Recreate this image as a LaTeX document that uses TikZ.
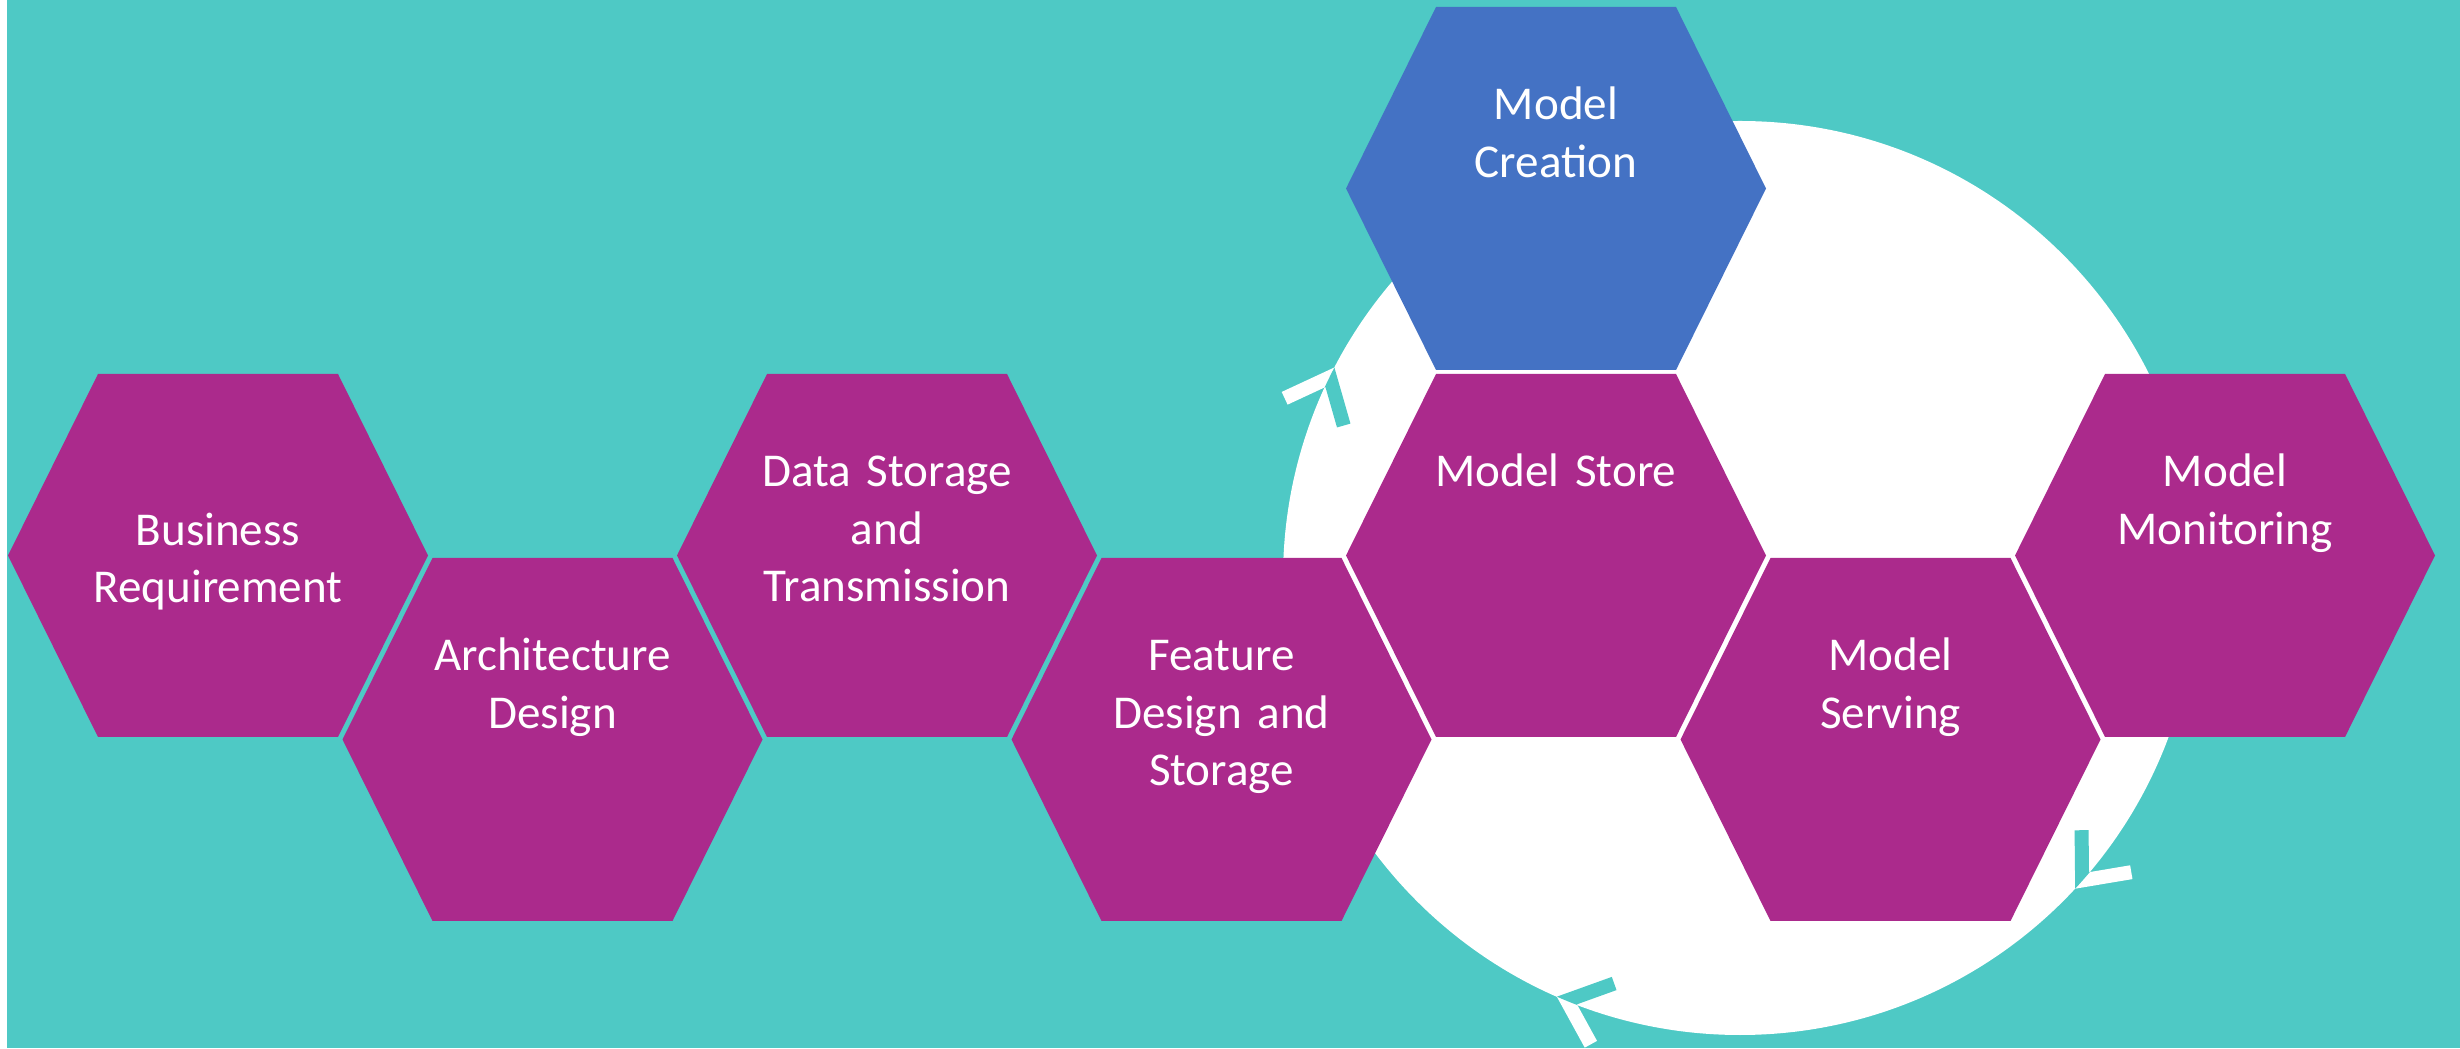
\documentclass[tikz,border=0pt]{standalone}
\usepackage{fontspec}
\setmainfont{Carlito}
\usetikzlibrary{calc,positioning}
\definecolor{bgteal}{HTML}{4EC9C5}
\definecolor{hexpurple}{HTML}{AB2A8C}
\definecolor{hexblue}{HTML}{4472C4}

\begin{document}
\begin{tikzpicture}
	\tikzset{
		hexa/.style={fill=#1},
		steptext/.style={font={\fontsize{13.4}{16.3}\selectfont}, text=white, text width=4cm, align=center, anchor=base, inner sep=0pt},
		chevron/.style={line width=1.4mm, line join=miter, line cap=butt},
	}

	\useasboundingbox (0,0) rectangle (24.6,10.48);
	\fill[white] (0,0) rectangle (24.6,10.48);
	\fill[bgteal] (0.07,0) rectangle (24.6,10.48);

	\coordinate (cyc) at (17.40,4.70);
	\fill[white] (cyc) circle (4.57);

	\foreach \a in {152.6,-42.8,-113.6}
		{
			\begin{scope}[shift={(cyc)}, rotate=\a]
				\draw[chevron, white] (4.87,0.50) -- (4.565,0.105) -- (4.22,0.47);
				\clip (0,0) circle (4.57);
				\draw[chevron, bgteal] (4.87,0.50) -- (4.565,0.105) -- (4.22,0.47);
			\end{scope}
		}

	\foreach \nm/\cx/\cy/\col in {busreq/2.18/4.925/hexpurple, archdes/5.525/3.085/hexpurple, datastor/8.87/4.925/hexpurple, featdes/12.215/3.085/hexpurple, mstore/15.56/4.925/hexpurple, mcreate/15.56/8.595/hexblue, mserve/18.905/3.085/hexpurple, mmonitor/22.25/4.925/hexpurple}
		{
			\coordinate (\nm) at (\cx,\cy);
			\fill[hexa=\col] (\nm) ++(-2.1,0) -- ++(0.9,1.815) -- ++(2.4,0) -- ++(0.9,-1.815) -- ++(-0.9,-1.815) -- ++(-2.4,0) -- cycle;
		}

	\node[steptext] (busreq-t) at ($(busreq)+(0,0.10)$) {Business\\Requirement};
	\node[steptext] (archdes-t) at ($(archdes)+(0,0.685)$) {Architecture\\Design};
	\node[steptext] (datastor-t) at ($(datastor)+(0,0.685)$) {Data Storage\\and\\Transmission};
	\node[steptext] (featdes-t) at ($(featdes)+(0,0.685)$) {Feature\\Design and\\Storage};
	\node[steptext] (mstore-t) at ($(mstore)+(0,0.685)$) {Model Store};
	\node[steptext] (mcreate-t) at ($(mcreate)+(0,0.685)$) {Model\\Creation};
	\node[steptext] (mserve-t) at ($(mserve)+(0,0.685)$) {Model\\Serving};
	\node[steptext] (mmonitor-t) at ($(mmonitor)+(0,0.685)$) {Model\\Monitoring};

\end{tikzpicture}
\end{document}
